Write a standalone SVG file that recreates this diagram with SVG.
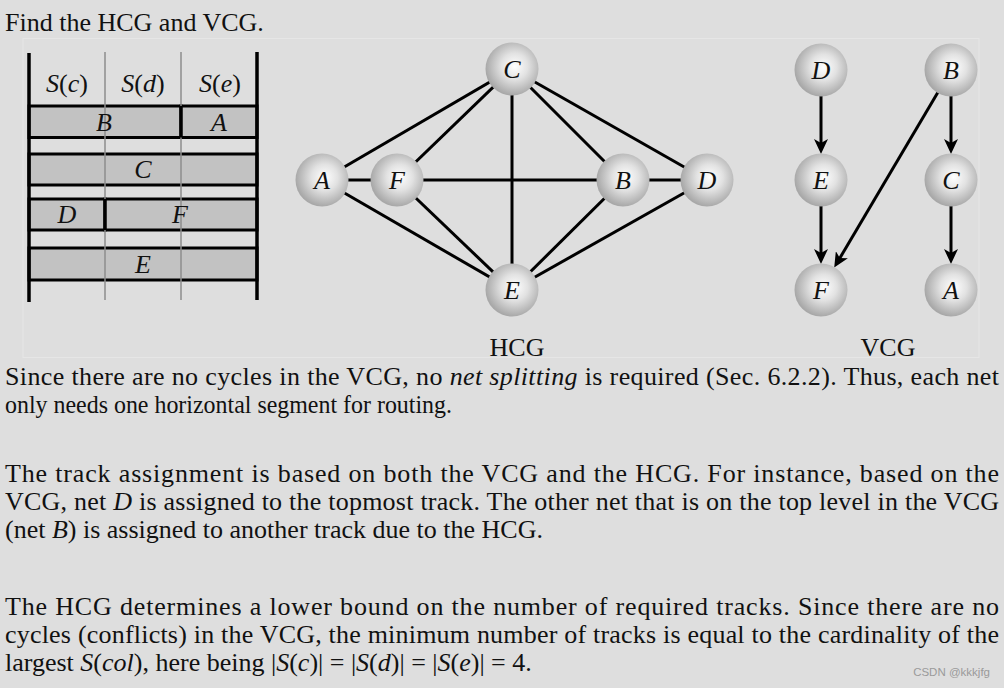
<svg xmlns="http://www.w3.org/2000/svg" width="1004" height="688" viewBox="0 0 1004 688">
<defs>
<radialGradient id="ball" cx="0.55" cy="0.45" r="0.55">
<stop offset="0" stop-color="#ffffff"/>
<stop offset="0.45" stop-color="#e2e2e2"/>
<stop offset="1" stop-color="#a8a8a8"/>
</radialGradient>
<marker id="arr" markerUnits="userSpaceOnUse" markerWidth="16" markerHeight="14" refX="7" refY="7" orient="auto">
<path d="M0,0 L15,7 L0,14 L4,7 z" fill="#000"/>
</marker>
</defs>
<style>
text{font-family:"Liberation Serif","Times New Roman",serif;fill:#111}
.t{font-size:26px}
.it{font-style:italic}
.lbl{font-family:"Liberation Serif","Times New Roman",serif;font-size:26px;font-style:italic;text-anchor:middle}
.node{fill:url(#ball)}
.edge{stroke:#000;stroke-width:3;fill:none}
.row{fill:#c2c2c2;stroke:#000;stroke-width:3}
.thin{stroke:#8c8c8c;stroke-width:1.5}
.thick{stroke:#000;stroke-width:3.5}
</style>
<rect x="0" y="0" width="1004" height="688" fill="#dedede"/>
<rect x="23" y="38.5" width="956" height="319" fill="none" stroke="#e6e6e6" stroke-width="1"/>
<text class="t" x="5" y="31">Find the HCG and VCG.</text>

<g id="channel">
<rect class="row" x="29" y="106" width="152" height="31.5"/>
<rect class="row" x="181" y="106" width="76" height="31.5"/>
<rect class="row" x="29" y="154" width="228" height="31"/>
<rect class="row" x="29" y="199" width="76" height="31"/>
<rect class="row" x="105" y="199" width="152" height="31"/>
<rect class="row" x="29" y="248" width="228" height="32"/>
<line class="thin" x1="105" y1="52" x2="105" y2="300"/>
<line class="thin" x1="181" y1="52" x2="181" y2="300"/>
<line class="edge" x1="181" y1="106" x2="181" y2="137.5"/>
<line class="edge" x1="105" y1="199" x2="105" y2="230"/>
<line class="thick" x1="29" y1="53" x2="29" y2="302"/>
<line class="thick" x1="257" y1="52" x2="257" y2="300"/>
<text class="t" x="67" y="92" text-anchor="middle"><tspan class="it">S</tspan>(<tspan class="it">c</tspan>)</text>
<text class="t" x="143" y="92" text-anchor="middle"><tspan class="it">S</tspan>(<tspan class="it">d</tspan>)</text>
<text class="t" x="220" y="92" text-anchor="middle"><tspan class="it">S</tspan>(<tspan class="it">e</tspan>)</text>
<text class="lbl" x="104" y="131">B</text>
<text class="lbl" x="219" y="131">A</text>
<text class="lbl" x="143" y="178">C</text>
<text class="lbl" x="67" y="223">D</text>
<text class="lbl" x="180" y="223">F</text>
<text class="lbl" x="143" y="273">E</text>
</g>

<g id="hcg-edges">
<line class="edge" x1="322" y1="180" x2="512" y2="69"/>
<line class="edge" x1="397" y1="180" x2="512" y2="69"/>
<line class="edge" x1="512" y1="69" x2="512" y2="290"/>
<line class="edge" x1="512" y1="69" x2="623" y2="180"/>
<line class="edge" x1="512" y1="69" x2="707" y2="180"/>
<line class="edge" x1="322" y1="180" x2="397" y2="180"/>
<line class="edge" x1="397" y1="180" x2="623" y2="180"/>
<line class="edge" x1="623" y1="180" x2="707" y2="180"/>
<line class="edge" x1="322" y1="180" x2="512" y2="290"/>
<line class="edge" x1="397" y1="180" x2="512" y2="290"/>
<line class="edge" x1="623" y1="180" x2="512" y2="290"/>
<line class="edge" x1="707" y1="180" x2="512" y2="290"/>
</g>
<g id="hcg-C"><circle class="node" cx="512" cy="69" r="26.5"/><text class="lbl" x="512" y="78">C</text></g>
<g id="hcg-A"><circle class="node" cx="322" cy="180" r="26.5"/><text class="lbl" x="322" y="189">A</text></g>
<g id="hcg-F"><circle class="node" cx="397" cy="180" r="26.5"/><text class="lbl" x="397" y="189">F</text></g>
<g id="hcg-B"><circle class="node" cx="623" cy="180" r="26.5"/><text class="lbl" x="623" y="189">B</text></g>
<g id="hcg-D"><circle class="node" cx="707" cy="180" r="26.5"/><text class="lbl" x="707" y="189">D</text></g>
<g id="hcg-E"><circle class="node" cx="512" cy="290" r="26.5"/><text class="lbl" x="512" y="299">E</text></g>
<text class="t" x="517" y="356" text-anchor="middle">HCG</text>

<g id="vcg-edges">
<line class="edge" x1="821" y1="96" x2="821" y2="146" marker-end="url(#arr)"/>
<line class="edge" x1="821" y1="206" x2="821" y2="256" marker-end="url(#arr)"/>
<line class="edge" x1="951" y1="96" x2="951" y2="146" marker-end="url(#arr)"/>
<line class="edge" x1="951" y1="206" x2="951" y2="256" marker-end="url(#arr)"/>
<line class="edge" x1="937.8" y1="92.4" x2="838.3" y2="260.7" marker-end="url(#arr)"/>
</g>
<g id="vcg-D"><circle class="node" cx="821" cy="70" r="26.5"/><text class="lbl" x="821" y="79">D</text></g>
<g id="vcg-B"><circle class="node" cx="951" cy="70" r="26.5"/><text class="lbl" x="951" y="79">B</text></g>
<g id="vcg-E"><circle class="node" cx="821" cy="180" r="26.5"/><text class="lbl" x="821" y="189">E</text></g>
<g id="vcg-C"><circle class="node" cx="951" cy="180" r="26.5"/><text class="lbl" x="951" y="189">C</text></g>
<g id="vcg-F"><circle class="node" cx="821" cy="290" r="26.5"/><text class="lbl" x="821" y="299">F</text></g>
<g id="vcg-A"><circle class="node" cx="951" cy="290" r="26.5"/><text class="lbl" x="951" y="299">A</text></g>
<text class="t" x="888" y="356" text-anchor="middle">VCG</text>

<g id="body">
<text class="t" x="5" y="385" textLength="994" lengthAdjust="spacing">Since there are no cycles in the VCG, no <tspan class="it">net splitting</tspan> is required (Sec. 6.2.2). Thus, each net</text>
<text class="t" x="5" y="413" textLength="447" lengthAdjust="spacingAndGlyphs">only needs one horizontal segment for routing.</text>
<text class="t" x="5" y="482" textLength="994" lengthAdjust="spacing">The track assignment is based on both the VCG and the HCG. For instance, based on the</text>
<text class="t" x="5" y="510" textLength="994" lengthAdjust="spacing">VCG, net <tspan class="it">D</tspan> is assigned to the topmost track. The other net that is on the top level in the VCG</text>
<text class="t" x="5" y="538">(net <tspan class="it">B</tspan>) is assigned to another track due to the HCG.</text>
<text class="t" x="5" y="615" textLength="994" lengthAdjust="spacing">The HCG determines a lower bound on the number of required tracks. Since there are no</text>
<text class="t" x="5" y="643" textLength="994" lengthAdjust="spacing">cycles (conflicts) in the VCG, the minimum number of tracks is equal to the cardinality of the</text>
<text class="t" x="5" y="671">largest <tspan class="it">S</tspan>(<tspan class="it">col</tspan>), here being |<tspan class="it">S</tspan>(<tspan class="it">c</tspan>)| = |<tspan class="it">S</tspan>(<tspan class="it">d</tspan>)| = |<tspan class="it">S</tspan>(<tspan class="it">e</tspan>)| = 4.</text>
</g>
<text x="990" y="676" text-anchor="end" style="font-family:'Liberation Sans',Arial,sans-serif;font-size:11.5px;fill:#9a9a9a">CSDN @kkkjfg</text>
</svg>
